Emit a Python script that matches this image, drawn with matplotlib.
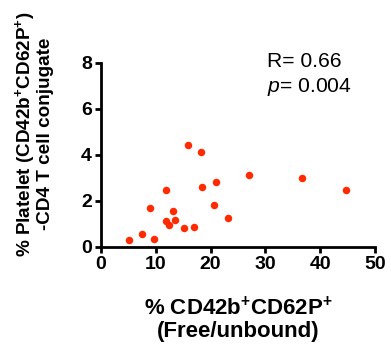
import matplotlib
matplotlib.use("Agg")
import matplotlib.pyplot as plt

plt.rcParams["font.family"] = ["Liberation Sans", "DejaVu Sans"]
plt.rcParams["mathtext.fontset"] = "custom"
plt.rcParams["mathtext.rm"] = "Liberation Sans"
plt.rcParams["mathtext.it"] = "Liberation Sans:italic"
plt.rcParams["mathtext.bf"] = "Liberation Sans:bold"

# % CD42b+CD62P+ free/unbound vs % platelet-CD4 T cell conjugate
free_unbound = [5.05, 7.5, 9.6, 8.9, 11.9, 11.9, 12.4, 13.1, 13.5, 15.1,
                15.9, 16.9, 18.3, 18.5, 20.7, 21.0, 23.1, 27.1, 36.7, 44.8]
conjugate = [0.29, 0.55, 0.33, 1.67, 2.47, 1.10, 0.93, 1.55, 1.17, 0.81,
             4.42, 0.87, 4.13, 2.60, 1.81, 2.80, 1.23, 3.12, 2.99, 2.47]
xticks = [0, 10, 20, 30, 40, 50]
yticks = [0, 2, 4, 6, 8]

fig = plt.figure(figsize=(3.91, 3.54), dpi=100)
ax = fig.add_axes([0.258, 0.303, 0.701, 0.52])
ax.plot(free_unbound, conjugate, "o", color="#ff2a00", ms=5.4, mew=0,
        clip_on=False)
ax.set_xlim(0, 50); ax.set_ylim(0, 8)
ax.set_xticks(xticks); ax.set_yticks(yticks)
for s in ("top", "right"):
    ax.spines[s].set_visible(False)
for s in ("left", "bottom"):
    ax.spines[s].set_linewidth(2)
ax.tick_params(width=2, length=4.5, labelsize=14, pad=2)
for lab in ax.get_xticklabels() + ax.get_yticklabels():
    lab.set_fontweight("bold")

sup = "$^{\\mathbf{+}}$"
ax.set_xlabel(f"% CD42b{sup}CD62P{sup}\n(Free/unbound)",
              fontsize=16, fontweight="bold", linespacing=1.05)
ax.xaxis.set_label_coords(0.5, -0.27)
ax.set_ylabel(f"% Platelet (CD42b{sup}CD62P{sup})\n-CD4 T cell conjugate",
              fontsize=13.6, fontweight="bold", linespacing=1.05)
ax.yaxis.set_label_coords(-0.17, 0.6125)

ax.text(0.605, 1.06, "R= 0.66", transform=ax.transAxes, fontsize=15.2,
        va="top", ha="left")
ax.text(0.605, 0.925, "$p$= 0.004", transform=ax.transAxes, fontsize=15.2,
        va="top", ha="left")

fig.savefig("out.png", dpi=100)
